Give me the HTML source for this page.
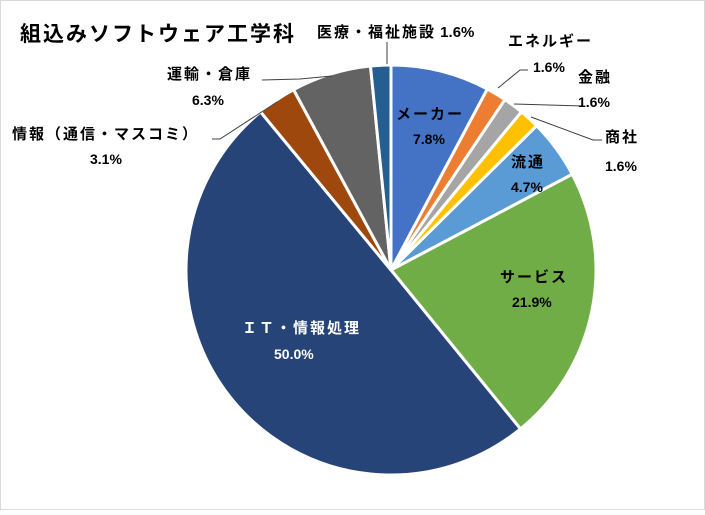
<!DOCTYPE html>
<html><head><meta charset="utf-8"><style>
body{margin:0;background:#fff}
svg text{font-family:"Liberation Sans","Noto Sans CJK JP",sans-serif;font-weight:bold;font-size:14px;fill:#000}
svg text.j{font-size:15px;letter-spacing:2px}
</style></head><body>
<svg id="s" width="705" height="510" xmlns="http://www.w3.org/2000/svg">
<rect x="0.5" y="0.5" width="704" height="509" fill="#fff" stroke="#d9d9d9"/>
<text x="20" y="41" style="font-size:21px;letter-spacing:2px">組込みソフトウェア工学科</text>
<g id="p"></g>
<g fill="none" stroke="#404040" stroke-width="1">
<polyline points="387,64 387,42"/>
<polyline points="498,88 520,70 528,70"/>
<polyline points="514,104 583,106"/>
<polyline points="531,117 593,140 602,140"/>
<polyline points="212,139 220,139 277,102"/>
<polyline points="262,80 300,79 332,76"/>
</g>
<text x="317" y="37" class="j">医療・福祉施設<tspan style="letter-spacing:0"> 1.6%</tspan></text>
<text x="508" y="46" class="j">エネルギー</text>
<text x="533" y="72">1.6%</text>
<text x="578" y="82" class="j">金融</text>
<text x="578" y="107">1.6%</text>
<text x="605" y="142" class="j">商社</text>
<text x="605" y="171">1.6%</text>
<text x="396" y="119" class="j">メーカー</text>
<text x="413" y="144">7.8%</text>
<text x="511" y="167" class="j">流通</text>
<text x="511" y="192">4.7%</text>
<text x="500" y="282" class="j">サービス</text>
<text x="512" y="307">21.9%</text>
<text x="242" y="333" class="j" style="fill:#fff">ＩＴ・情報処理</text>
<text x="274" y="359" style="fill:#fff">50.0%</text>
<text x="167" y="79" class="j">運輸・倉庫</text>
<text x="192" y="105">6.3%</text>
<text x="12" y="139" class="j">情報（通信・マスコミ）</text>
<text x="90" y="164">3.1%</text>
</svg>
<script>
var d=[[7.8,"#4472C4"],[1.6,"#ED7D31"],[1.6,"#A5A5A5"],[1.6,"#FFC000"],[4.7,"#5B9BD5"],[21.9,"#70AD47"],[50,"#264478"],[3.1,"#9E480E"],[6.3,"#636363"],[1.6,"#255E91"]];
var t=0;d.forEach(function(x){t+=x[0]});
var cx=391,cy=270,r=205,a=0,h="";
d.forEach(function(x){var b=a+x[0]/t*2*Math.PI;
var x1=cx+r*Math.sin(a),y1=cy-r*Math.cos(a),x2=cx+r*Math.sin(b),y2=cy-r*Math.cos(b);
h+='<path d="M'+cx+','+cy+'L'+x1+','+y1+'A'+r+','+r+' 0 '+((b-a)>Math.PI?1:0)+' 1 '+x2+','+y2+'Z" fill="'+x[1]+'" stroke="#fff" stroke-width="3"/>';a=b;});
document.getElementById("p").innerHTML=h;
</script>
</body></html>
